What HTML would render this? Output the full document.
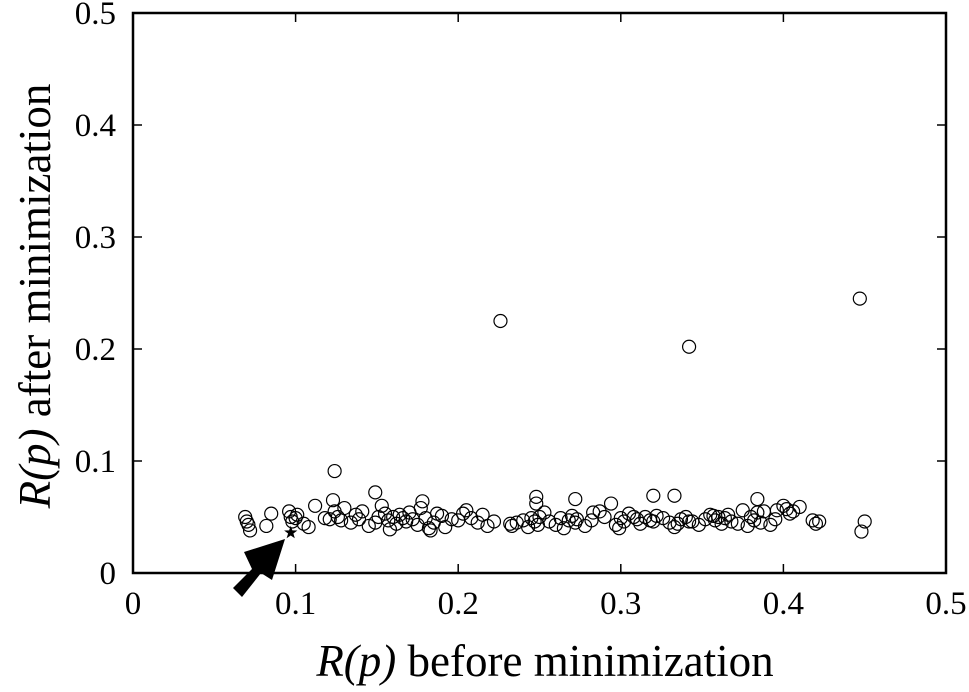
<!DOCTYPE html>
<html><head><meta charset="utf-8"><style>
body{margin:0;background:#fff}
svg{display:block}
text{font-family:"Liberation Serif",serif;fill:#000}
</style></head><body>
<svg id="chart" width="969" height="692" viewBox="0 0 969 692" xmlns="http://www.w3.org/2000/svg">
<rect x="133" y="13" width="813" height="560" fill="none" stroke="#000" stroke-width="2.5"/>
<g id="ticks"></g>
<g id="points"></g>
<path d="M233,588 L252,569 L244,552 L285,539 L272,580 L261,573 L242,597 Z" fill="#000"/>
<text x="545" y="676" font-size="45" text-anchor="middle"><tspan font-style="italic">R(p)</tspan> before minimization</text>
<text transform="translate(50,296) rotate(-90)" font-size="45" text-anchor="middle"><tspan font-style="italic">R(p)</tspan> after minimization</text>
</svg>
<script>
const xTicks=[0,0.1,0.2,0.3,0.4,0.5];
const yTicks=[0,0.1,0.2,0.3,0.4,0.5];
const xTickLabels=["0","0.1","0.2","0.3","0.4","0.5"];
const yTickLabels=["0","0.1","0.2","0.3","0.4","0.5"];
const xVals=[0.069,0.07,0.071,0.072,0.082,0.085,0.096,0.097,0.098,0.1,0.101,0.105,0.108,0.112,0.118,0.121,0.123,0.124,0.126,0.128,0.13,0.134,0.137,0.139,0.141,0.145,0.149,0.151,0.153,0.155,0.157,0.16,0.162,0.164,0.166,0.168,0.17,0.172,0.175,0.177,0.178,0.18,0.182,0.185,0.187,0.19,0.192,0.196,0.2,0.203,0.205,0.208,0.212,0.215,0.218,0.222,0.226,0.232,0.236,0.24,0.243,0.245,0.247,0.248,0.249,0.25,0.253,0.256,0.26,0.263,0.265,0.268,0.27,0.272,0.273,0.278,0.282,0.287,0.29,0.294,0.297,0.299,0.3,0.302,0.305,0.308,0.31,0.312,0.315,0.318,0.32,0.322,0.326,0.33,0.333,0.335,0.337,0.34,0.342,0.344,0.348,0.352,0.355,0.358,0.36,0.362,0.364,0.366,0.368,0.372,0.375,0.378,0.38,0.382,0.384,0.386,0.388,0.392,0.396,0.4,0.402,0.404,0.406,0.41,0.418,0.42,0.422,0.447,0.448,0.45,0.124,0.149,0.248,0.272,0.32,0.333,0.384,0.342,0.158,0.183,0.233,0.283,0.357,0.395];
const yVals=[0.05,0.046,0.043,0.038,0.042,0.053,0.055,0.05,0.046,0.049,0.052,0.044,0.041,0.06,0.049,0.048,0.065,0.055,0.05,0.047,0.058,0.045,0.052,0.048,0.055,0.042,0.045,0.05,0.06,0.053,0.047,0.05,0.044,0.052,0.049,0.046,0.054,0.048,0.043,0.058,0.064,0.049,0.04,0.045,0.053,0.051,0.041,0.048,0.047,0.053,0.056,0.049,0.045,0.052,0.042,0.046,0.225,0.044,0.045,0.047,0.041,0.049,0.046,0.062,0.043,0.05,0.054,0.046,0.043,0.049,0.04,0.047,0.051,0.045,0.048,0.042,0.047,0.055,0.05,0.062,0.043,0.04,0.049,0.046,0.053,0.05,0.048,0.044,0.05,0.047,0.046,0.051,0.049,0.045,0.041,0.044,0.048,0.05,0.202,0.046,0.043,0.048,0.052,0.047,0.05,0.044,0.049,0.052,0.046,0.044,0.056,0.042,0.05,0.047,0.054,0.045,0.055,0.043,0.056,0.06,0.057,0.053,0.055,0.059,0.047,0.044,0.046,0.245,0.037,0.046,0.091,0.072,0.068,0.066,0.069,0.069,0.066,0.046,0.039,0.038,0.042,0.054,0.051,0.048];
const starX=[0.097], starY=[0.036];
const X0=133,X1=946,Y0=573,Y1=13;
const sx=v=>X0+(v-0)/(0.5)*(X1-X0);
const sy=v=>Y0-(v-0)/(0.5)*(Y0-Y1);
const NS="http://www.w3.org/2000/svg";
const tg=document.getElementById('ticks');
function mk(tag,attrs,parent){const e=document.createElementNS(NS,tag);for(const k in attrs)e.setAttribute(k,attrs[k]);parent.appendChild(e);return e;}
xTicks.forEach((t,i)=>{
  const x=sx(t);
  if(i>0&&i<xTicks.length-1){
    const l1=mk('line',{x1:x,x2:x,y1:Y0,y2:Y0-9,stroke:'#000','stroke-width':1.5},tg);
    
    
    const l2=mk('line',{x1:x,x2:x,y1:Y1,y2:Y1+9,stroke:'#000','stroke-width':1.5},tg);
    
    
  }
  const tx=mk('text',{x:x,y:614,'font-size':33,'text-anchor':'middle'},tg);
  tx.textContent=xTickLabels[i];
  
  
});
yTicks.forEach((t,i)=>{
  const y=sy(t);
  if(i>0&&i<yTicks.length-1){
    const l1=mk('line',{x1:X0,x2:X0+9,y1:y,y2:y,stroke:'#000','stroke-width':1.5},tg);
    
    
    const l2=mk('line',{x1:X1,x2:X1-9,y1:y,y2:y,stroke:'#000','stroke-width':1.5},tg);
    
    
  }
  const tx=mk('text',{x:116,y:y+11,'font-size':33,'text-anchor':'end'},tg);
  tx.textContent=yTickLabels[i];
  
  
});
const pg=document.getElementById('points');
xVals.forEach((v,i)=>{
  const c=mk('circle',{cx:sx(v),cy:sy(yVals[i]),r:6.5,fill:'none',stroke:'#000','stroke-width':1.2},pg);
  
  
});
starX.forEach((v,i)=>{
  const cx=sx(v),cy=sy(starY[i]);let d='';
  for(let k=0;k<10;k++){const r=k%2?2.8:7;const a=-Math.PI/2+k*Math.PI/5;d+=(k?'L':'M')+(cx+r*Math.cos(a)).toFixed(1)+','+(cy+r*Math.sin(a)).toFixed(1);}
  const s=mk('path',{d:d+'Z',fill:'#000'},pg);
  
  
});
</script>
</body></html>
